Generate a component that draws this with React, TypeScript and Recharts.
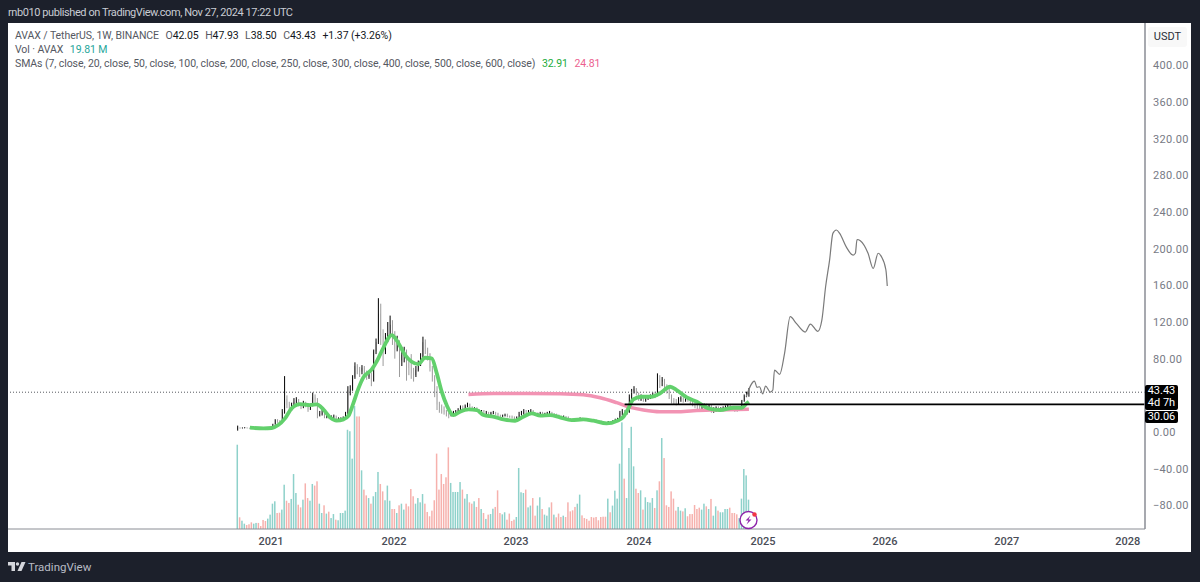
import {
  ComposedChart,
  Bar,
  Line,
  XAxis,
  YAxis,
  ReferenceLine,
} from "recharts";

const FONT = "Roboto, sans-serif";
const FIRST_OPEN = 3.5;

// weekly closes from Sep 2020
const closes = [
  4.8, 4.3, 4.5, 4.8, 4.4, 4.1, 3.7, 3.9, 4.2, 3.9, 3.6, 3.3, 3.1, 3.5, 4.3, 8, 13, 12, 11, 22,
  36, 30, 24, 29, 33, 35, 30, 27, 32, 29, 25, 29, 38, 35, 19, 20, 21, 17, 18, 15,
  16, 17, 14, 14.5, 15, 16, 20, 46, 47, 60, 72, 68, 66, 70, 65, 60, 64, 56, 88, 98,
  129, 105, 88, 102, 108, 117, 106, 90, 96, 78, 84, 86, 76, 70, 64, 62, 68, 74, 82, 98,
  90, 85, 70, 60, 42, 30, 25, 24, 22, 20, 18, 20, 21, 22, 24, 27, 25, 28, 31, 27,
  25, 26, 24, 22, 23, 21, 21, 20, 20.5, 21, 20, 18, 17.5, 18, 18.5, 17.5, 17, 16, 15.5, 16,
  19, 20, 22, 21, 22, 23, 20, 19, 20, 21, 19.5, 20, 20.5, 21, 18.5, 19, 18, 17, 16, 16.5,
  16, 14.5, 14, 13.5, 13.2, 13.6, 14.5, 14, 13.5, 13.2, 13, 12.8, 12.5, 12.2, 11.5, 11, 10.5, 10, 11, 10.5,
  11.5, 13, 14, 21, 22, 20, 21, 38, 44, 47, 42, 37, 39, 35, 37, 38, 39, 41, 40, 57,
  55, 57, 50, 46, 40, 34, 33, 32.5, 36, 37, 35, 37, 35, 33, 31, 29, 28, 27, 29, 30,
  27, 29, 24, 25, 27, 25, 26, 27, 28, 29, 27, 26, 25, 24.5, 26, 34, 39, 42.05, 43.43,
];

const highs = [
  7, 5, 5, 5.3, 5, 4.6, 4.2, 4.2, 4.6, 4.4, 4, 3.7, 3.4, 3.8, 5, 9, 14, 14, 13, 25,
  61, 40, 33, 32, 37, 38, 36, 31, 34, 33, 30, 31, 43, 41, 37, 23, 24, 22, 20, 19,
  18, 19, 18, 16, 16, 17, 22, 50, 51, 62, 76, 74, 71, 73, 72, 67, 66, 65, 90, 102,
  146, 140, 112, 108, 120, 127, 122, 110, 105, 100, 92, 93, 90, 78, 85, 70, 72, 78, 86, 104,
  101, 92, 86, 72, 62, 50, 33, 30, 28, 24, 21, 22, 23, 24, 26, 29, 29, 30, 32, 31,
  28, 27, 27, 25, 24, 24, 23, 22, 22, 23, 22, 21, 19, 19, 20, 20, 18, 18, 17, 17,
  22, 23, 25, 24, 24, 25, 24, 21, 21, 22, 22, 21, 22, 23, 22, 20, 20, 19, 18, 18,
  17.5, 17, 15, 15, 14.5, 15, 16, 15.5, 15, 14.5, 14, 14, 14, 13.5, 13, 12.5, 11.5, 11, 12, 12,
  13, 14.5, 15.5, 23, 25, 24, 23, 41, 47, 50, 48, 43, 41, 40, 39, 40, 41, 43, 44, 64,
  62, 60, 58, 52, 47, 41, 37, 36, 38, 39, 38, 38, 38, 36, 34, 32, 30, 29, 30, 31,
  31, 30, 30, 27, 28, 28, 27, 28, 29, 30, 30, 28, 27, 26, 27, 35, 41, 44, 47.93,
];

const lows = [
  1.5, 3.8, 4, 4.2, 4, 3.8, 3.4, 3.5, 3.7, 3.6, 3.3, 3, 2.9, 3, 3.4, 4, 8, 10, 9.5, 10,
  20, 26, 21, 23, 28, 31, 28, 25, 26, 27, 22, 24, 28, 32, 15, 17, 18, 15, 15, 14,
  14, 15, 13, 13, 13.5, 14.5, 15, 18, 40, 45, 58, 63, 60, 63, 62, 57, 58, 50, 55, 85,
  96, 95, 72, 85, 98, 105, 95, 80, 88, 60, 72, 76, 56, 62, 58, 55, 60, 66, 72, 80,
  85, 78, 66, 55, 38, 24, 21, 20, 19, 17, 15, 17, 19, 20, 21, 23, 23, 24, 27, 25,
  23, 23, 22, 20, 20, 19, 19, 18, 18.5, 19.5, 18.5, 16, 16, 16.5, 17, 16, 15.5, 14.5, 13.5, 14.5,
  15.5, 18, 19, 19, 20, 21, 18.5, 17.5, 18, 19, 18, 18.5, 19, 19.5, 17, 17.5, 16.5, 15.5, 15, 15,
  14.5, 13, 12.5, 12.5, 12, 12.5, 13, 13, 12.5, 12, 12, 11.5, 11.5, 11, 10.5, 10, 9.5, 9, 9.5, 9.5,
  10, 11, 13, 14, 18, 18, 19, 21, 36, 42, 40, 34, 34, 33, 33, 35, 36, 37, 37, 39,
  48, 50, 44, 42, 36, 31, 30, 29, 30, 33, 32, 33, 33, 30, 28, 26, 25, 23, 24, 26,
  24, 25, 21, 21, 22, 23, 23, 24, 25, 26, 25, 23, 22, 22, 23, 25, 33, 38, 38.5,
];

// volume in millions
const volumes = [
  56.9, 7.9, 5.6, 3.6, 2.7, 3.2, 4.5, 3.6, 4.1, 4.1, 2, 6.1, 5.4, 7, 9.7, 17.1, 18.7, 10.8, 11, 13.1,
  29.9, 19.1, 17.6, 20.3, 37.1, 24.3, 16.4, 14.6, 19.8, 30.8, 20.9, 19.1, 30.4, 29.3, 32.2, 17.1, 10.8, 16, 10.4, 11.7,
  7.4, 10.1, 6.3, 5.9, 10.8, 10.8, 12.4, 67, 66, 47.5, 83, 76, 76, 39.6, 26.6, 22.7, 20.9, 17.1, 22.1, 25,
  38.5, 30.4, 25.4, 19.4, 29.3, 19.1, 13.5, 13.5, 10.8, 16, 17.1, 13.1, 17.1, 15.3, 27, 22.1, 17.1, 20.9, 18, 23.6,
  17.1, 11.5, 8.6, 12.4, 19.4, 50.9, 26.6, 37.1, 30.4, 34.9, 55.1, 31.1, 25, 25, 25, 31.7, 26.6, 20.5, 23.6, 18,
  17.1, 18.7, 14.9, 20.9, 13.5, 10.8, 6.8, 9.7, 10.1, 13.7, 14.9, 26.1, 10.8, 9.9, 11.3, 6.3, 10.4, 5.4, 6.3, 8.1,
  41.2, 24.8, 24.3, 26.6, 14.6, 15.8, 20.9, 9, 15.8, 21.4, 13.5, 9.7, 9, 14.6, 18, 9.7, 7.9, 10.4, 8.1, 9,
  8.1, 18, 11.9, 12.6, 14.9, 17.1, 23.2, 9.2, 7.4, 6.8, 5.6, 8.1, 7.7, 8.1, 5.9, 8.1, 8.3, 8.3, 20.5, 11.3,
  15.8, 25.9, 20.5, 44.1, 72, 34, 20.9, 54.7, 69, 42.3, 27.2, 24.3, 26.1, 13.1, 21.4, 18.2, 17.8, 20.9, 14.2, 26.1,
  32.2, 61.4, 47.9, 16, 14.9, 25.4, 20.5, 12.4, 14.9, 12.4, 11.9, 14, 8.6, 10.1, 10.1, 16.2, 13.5, 14.4, 13.1, 17.1,
  15.3, 13.5, 20.3, 9, 15.3, 12.4, 11.3, 11.3, 13.5, 13.5, 14.4, 10.8, 10.8, 9.9, 7.4, 20.5, 40.5, 36.2, 19.81,
];

const smaFastWeeks = [
  5.2, 11, 14.5, 17.3, 20.2, 23, 26.6, 30.8, 33.7, 36.5, 39.4, 42.2, 45.1, 47.2, 49.3, 51.5, 53.6, 57.1, 59.3, 62,
  65.7, 67.8, 71.4, 74.2, 77, 79.9, 82.7, 84.9, 87, 89.1, 92, 94.8, 98.4, 102, 104.8, 109, 113.3, 118.3, 121.8, 125.4,
  129, 133.2, 137.4, 142.4, 147.4, 151.7, 157.3, 161.6, 164.5, 166.6, 168.7, 172.3, 176.5, 180, 184.4, 187.2, 191.5, 195.8, 200.7, 205.7,
  211.4, 215, 217, 218,
];
const smaFastValues = [
  4.7, 4, 4.4, 7.6, 14.9, 25.8, 30.5, 29.4, 30.2, 24.7, 16, 12.4, 13.8, 17.5, 31.3, 47.6, 59.6, 68, 77, 91.3,
  105.8, 100, 84, 76.7, 74, 81, 80.4, 64, 44, 29.4, 18.5, 22.2, 24.7, 24, 18.5, 16.7, 13.8, 12.3, 16.7, 20.3,
  17.8, 18.5, 16, 13, 13.8, 12.3, 9.4, 12, 16.7, 25.8, 35.6, 38.5, 38.5, 42, 49.4, 45.8, 37.8, 33, 25.8, 24,
  26.5, 26.5, 31, 32.91,
];

const smaSlowWeeks = [98.4, 109, 123.3, 137.4, 147.4, 154.6, 161.6, 167.4, 173, 180, 187.2, 194.3, 202.9, 218];
const smaSlowValues = [41, 42.1, 42.1, 41.8, 40.7, 37.4, 32, 26.9, 24, 22.1, 22.1, 23.2, 24, 24.81];

// hand drawn projection
const drawnWeeks = [
  216.8, 220.4, 221.4, 222.5, 223.9, 225.1, 227.1, 228.2, 228.9, 231.1, 233.2, 235.6, 238.2, 242, 244.2, 247.4, 249.1, 250.7, 252.4, 253.8,
  255.3, 256.7, 259.5, 262.4, 263.4, 264.1, 265.5, 268.8, 271, 273.1, 274.5, 276.4, 277,
];
const drawnPrices = [
  38.5, 55.6, 48.7, 49.4, 41.5, 50.2, 43.6, 45.8, 67.6, 62.9, 85.8, 125.8, 118.5, 109, 117.8, 109.8, 122, 158.5, 187.6, 216.7,
  220.4, 216.7, 202, 193, 195, 210, 208.7, 195, 178.5, 195, 191.3, 177, 159.3,
];

const levelWeeks = [165, 387];
const levelPrices = [30.06, 30.06];

const yearWeeks = [14.2, 66.7, 118.7, 171.1, 224, 276, 328, 379.6];
const yearLabels = ["2021", "2022", "2023", "2024", "2025", "2026", "2027", "2028"];
const priceTicks = [400, 360, 320, 280, 240, 200, 160, 120, 80, 0, -40, -80];
const lastPrice = 43.43;

const rows = closes.map((close, week) => ({
  week,
  open: week === 0 ? FIRST_OPEN : closes[week - 1],
  close,
  high: highs[week],
  low: lows[week],
  volume: volumes[week],
}));

const pairs = (weeks: number[], values: number[]) =>
  weeks.map((week, i) => ({ week, value: values[i] }));

function Candle(props: any) {
  const { x, y, width, height, payload } = props;
  const up = payload.close >= payload.open;
  const color = up ? "#000000" : "#9b9b9b";
  const range = payload.high - payload.low || 1;
  const perUnit = height / range;
  const bodyTop = y + (payload.high - Math.max(payload.open, payload.close)) * perUnit;
  const bodyH = Math.max(Math.abs(payload.close - payload.open) * perUnit, 1.2);
  const mid = x + width / 2;
  return (
    <g>
      <line x1={mid} x2={mid} y1={y} y2={y + height} stroke={color} strokeWidth={1} />
      <rect x={x} y={bodyTop} width={width} height={bodyH} fill={color} />
    </g>
  );
}

function VolumeBar(props: any) {
  const { x, y, width, height, payload } = props;
  return (
    <rect
      x={x}
      y={y}
      width={width}
      height={height}
      fill={payload.close >= payload.open ? "#8ed1ca" : "#f6b1ad"}
    />
  );
}

function Tag(props: { top: number; height: number; children: any }) {
  return (
    <div
      style={{
        position: "absolute",
        left: 1145,
        top: props.top,
        width: 33,
        height: props.height,
        background: "#000",
        color: "#fff",
        fontSize: 11,
        lineHeight: "12px",
        textAlign: "center",
        borderRadius: 2,
      }}
    >
      {props.children}
    </div>
  );
}

const dim = { color: "#555862" };
const val = { color: "#131722" };
const gap = { marginLeft: 4 };

export default function App() {
  return (
    <div
      style={{
        position: "absolute",
        left: 0,
        top: 0,
        width: 1200,
        height: 582,
        background: "#1c202b",
        overflow: "hidden",
        fontFamily: FONT,
      }}
    >
      <div style={{ position: "absolute", left: 8, top: 23, width: 1183, height: 529, background: "#fff" }} />
      <ComposedChart
        width={1200}
        height={582}
        data={rows}
        margin={{ top: 23, right: 9, bottom: 30, left: 8 }}
        style={{ position: "absolute", left: 0, top: 0 }}
      >
        <XAxis
          dataKey="week"
          type="number"
          xAxisId="time"
          domain={[-97.95, 386.9]}
          ticks={yearWeeks}
          tickFormatter={(w: number) => yearLabels[yearWeeks.indexOf(w)]}
          height={23}
          tickLine={false}
          stroke="#8a8d94"
          tick={{ fontSize: 11, fill: "#4a4d57", fontFamily: FONT, fontWeight: 500 }}
          allowDataOverflow
        />
        <XAxis dataKey="week" type="number" xAxisId="timeVol" domain={[-97.95, 386.9]} hide allowDataOverflow />
        <YAxis
          yAxisId="price"
          orientation="right"
          domain={[-105.8, 446.2]}
          ticks={priceTicks}
          interval={0}
          tickFormatter={(v: number) => v.toFixed(2).replace("-", "\u2212")}
          width={46}
          tickLine={false}
          stroke="#8a8d94"
          strokeWidth={1.5}
          tick={{ fontSize: 11, fill: "#777a85", fontFamily: FONT, letterSpacing: 0.3 }}
          allowDataOverflow
        />
        <YAxis yAxisId="vol" hide domain={[0, 341.6]} allowDataOverflow />

        <Bar
          xAxisId="timeVol"
          yAxisId="vol"
          dataKey="volume"
          barSize={1.5}
          shape={VolumeBar}
          isAnimationActive={false}
        />
        <ReferenceLine
          xAxisId="time"
          yAxisId="price"
          y={lastPrice}
          stroke="#55585f"
          strokeDasharray="1 2"
        />
        <Bar
          xAxisId="time"
          yAxisId="price"
          dataKey={(d: any) => [d.low, d.high]}
          barSize={2}
          shape={Candle}
          isAnimationActive={false}
        />
        <Line
          xAxisId="time"
          yAxisId="price"
          data={pairs(smaSlowWeeks, smaSlowValues)}
          dataKey="value"
          type="monotone"
          stroke="#f293b3"
          strokeWidth={3.5}
          dot={false}
          isAnimationActive={false}
        />
        <Line
          xAxisId="time"
          yAxisId="price"
          data={pairs(smaFastWeeks, smaFastValues)}
          dataKey="value"
          type="monotone"
          stroke="#62d06c"
          strokeWidth={3.8}
          dot={false}
          isAnimationActive={false}
        />
        <Line
          xAxisId="time"
          yAxisId="price"
          data={pairs(levelWeeks, levelPrices)}
          dataKey="value"
          stroke="#000"
          strokeWidth={1.8}
          dot={false}
          isAnimationActive={false}
        />
        <Line
          xAxisId="time"
          yAxisId="price"
          data={pairs(drawnWeeks, drawnPrices)}
          dataKey="value"
          type="monotone"
          stroke="#7a7a7a"
          strokeWidth={1.2}
          dot={false}
          isAnimationActive={false}
        />
      </ComposedChart>

      <div
        style={{
          position: "absolute",
          left: 8,
          top: 6,
          fontSize: 11,
          letterSpacing: -0.42,
          color: "#c9ccd3",
          whiteSpace: "nowrap",
        }}
      >
        rnb010 published on TradingView.com, Nov 27, 2024 17:22 UTC
      </div>
      <div
        style={{
          position: "absolute",
          left: 15,
          top: 29,
          fontSize: 10.5,
          letterSpacing: -0.08,
          lineHeight: "13.8px",
          whiteSpace: "pre",
          ...dim,
        }}
      >
        <div>
          {"AVAX / TetherUS, 1W, BINANCE "}
          <span style={gap}>O</span>
          <span style={val}>42.05</span>
          <span style={gap}> H</span>
          <span style={val}>47.93</span>
          <span style={gap}> L</span>
          <span style={val}>38.50</span>
          <span style={gap}> C</span>
          <span style={val}>43.43</span>
          <span style={{ ...val, ...gap }}> +1.37 (+3.26%)</span>
        </div>
        <div>
          {"Vol · AVAX "}
          <span style={{ color: "#26a69a", ...gap }}>19.81 M</span>
        </div>
        <div>
          {"SMAs (7, close, 20, close, 50, close, 100, close, 200, close, 250, close, 300, close, 400, close, 500, close, 600, close) "}
          <span style={{ color: "#22ab3a", ...gap }}>32.91</span>
          {" "}
          <span style={{ color: "#ec5f8f", ...gap }}>24.81</span>
        </div>
      </div>

      <div
        style={{
          position: "absolute",
          left: 1148,
          top: 27,
          width: 39,
          height: 20,
          background: "#f8f8f8",
          borderRadius: 3,
          color: "#2a2e39",
          fontSize: 11,
          lineHeight: "20px",
          textAlign: "center",
        }}
      >
        USDT
      </div>

      <Tag top={385} height={25}>
        43.43
        <br />
        4d 7h
      </Tag>
      <Tag top={411} height={12}>
        30.06
      </Tag>

      <svg style={{ position: "absolute", left: 738, top: 509 }} width={22} height={22}>
        <circle cx={10.5} cy={11} r={8.5} fill="#fff" stroke="#8e24aa" strokeWidth={1.4} />
        <path d="M12.5 6.5 L7.5 11.5 H10.5 L8.5 15.5 L13.5 10.5 H10.5 Z" fill="#8e24aa" />
        <circle cx={16.5} cy={5.5} r={2.2} fill="#f23645" />
      </svg>

      <svg style={{ position: "absolute", left: 8, top: 562 }} width={18} height={10}>
        <path d="M0 0 H7 V9 H3.5 V3.5 H0 Z" fill="#d5d7dc" />
        <circle cx={9.5} cy={2} r={1.7} fill="#d5d7dc" />
        <path d="M17.5 0 L13.5 9 H9.5 L13.5 0 Z" fill="#d5d7dc" />
      </svg>
      <div style={{ position: "absolute", left: 28, top: 560, fontSize: 11.5, color: "#b9bcc5" }}>
        TradingView
      </div>
    </div>
  );
}
